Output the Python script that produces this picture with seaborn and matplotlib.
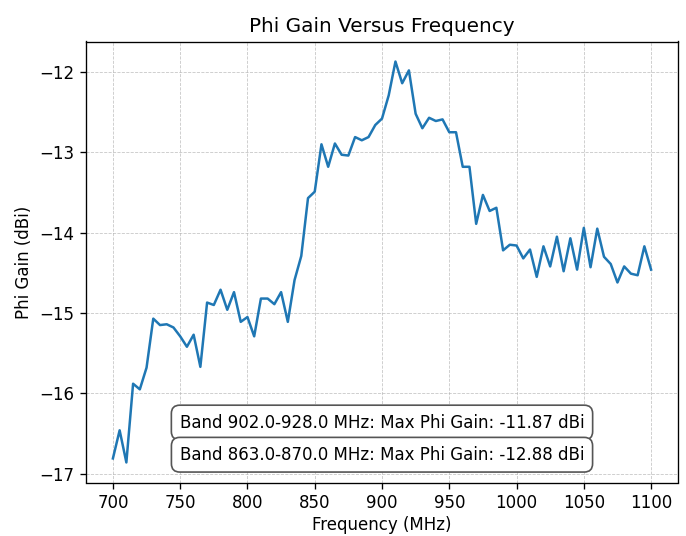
import numpy as np
import pandas as pd
import matplotlib
matplotlib.use("Agg")
import matplotlib.pyplot as plt
import seaborn as sns

freq = list(range(700, 1105, 5))
gain = [
    -16.81, -16.46, -16.86, -15.88, -15.95, -15.68, -15.07, -15.15, -15.14, -15.18,
    -15.29, -15.42, -15.27, -15.67, -14.87, -14.90, -14.71, -14.96, -14.74, -15.11,
    -15.05, -15.29, -14.82, -14.82, -14.89, -14.74, -15.11, -14.59, -14.29, -13.57,
    -13.49, -12.90, -13.18, -12.89, -13.03, -13.04, -12.81, -12.85, -12.81, -12.66,
    -12.58, -12.29, -11.87, -12.14, -11.98, -12.52, -12.70, -12.57, -12.61, -12.59,
    -12.75, -12.75, -13.18, -13.18, -13.89, -13.53, -13.73, -13.69, -14.22, -14.15,
    -14.16, -14.32, -14.21, -14.55, -14.17, -14.42, -14.05, -14.48, -14.07, -14.46,
    -13.94, -14.43, -13.95, -14.30, -14.39, -14.62, -14.42, -14.51, -14.53, -14.17,
    -14.46,
]
annotations = [
    "Band 902.0-928.0 MHz: Max Phi Gain: -11.87 dBi",
    "Band 863.0-870.0 MHz: Max Phi Gain: -12.88 dBi",
]
title = "Phi Gain Versus Frequency"
xlabel = "Frequency (MHz)"
ylabel = "Phi Gain (dBi)"

df = pd.DataFrame({"freq": freq, "gain": gain})

DPI = 120
W, H = 686, 536
fig = plt.figure(figsize=(W / DPI, H / DPI), dpi=DPI)
left, right, top, bottom = 86, 678, 41.5, 482.5
ax = fig.add_axes([left / W, 1 - bottom / H, (right - left) / W, (bottom - top) / H])
sns.lineplot(data=df, x="freq", y="gain", ax=ax, color="#1f77b4", linewidth=1.5)
ax.set_title(title, fontsize=12)
ax.set_xlabel(xlabel, fontsize=10, labelpad=2)
ax.set_ylabel(ylabel, fontsize=10)
ax.grid(True, linestyle="--", linewidth=0.5, alpha=0.7)

ypos = [0.136, 0.063]
for txt, yp in zip(annotations, ypos):
    ax.text(0.5, yp, txt, transform=ax.transAxes, ha="center", va="center", fontsize=10,
            bbox=dict(boxstyle="round,pad=0.5", facecolor="white", edgecolor="#555555", linewidth=1))

fig.savefig("out.png", dpi=DPI)
